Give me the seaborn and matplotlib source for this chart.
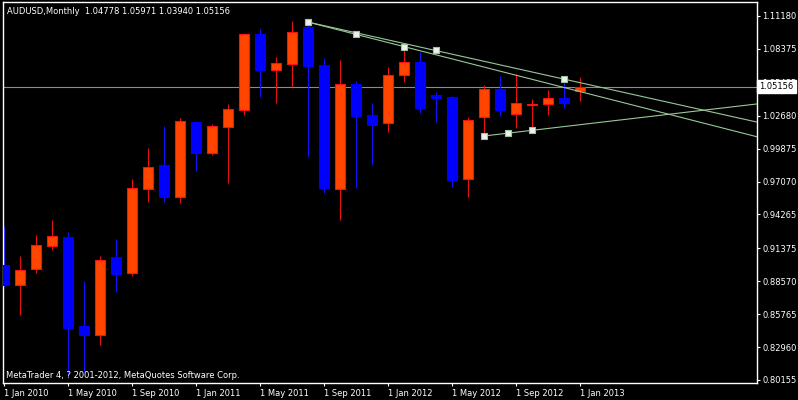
import numpy as np
import pandas as pd
import seaborn as sns
import matplotlib.pyplot as plt

# AUDUSD monthly bars, Jan 2010 .. Jan 2013
months = pd.date_range('2010-01-01', periods=37, freq='MS')
opens = [0.8996, 0.8825, 0.8962, 0.9158, 0.9234, 0.8476, 0.8399, 0.9064, 0.8928, 0.9644,
         0.9848, 0.9575, 1.0215, 0.9950, 1.0172, 1.0317, 1.0965, 1.0658, 1.0709, 1.1024,
         1.0700, 0.9644, 1.0538, 1.0274, 1.0206, 1.0615, 1.0726, 1.0445, 1.0428, 0.9729,
         1.0257, 1.0496, 1.0283, 1.0359, 1.0368, 1.0419, 1.04778]
highs = [0.9328, 0.9072, 0.9251, 0.9379, 0.9277, 0.8859, 0.9072, 0.9217, 0.9729, 0.9993,
         1.0180, 1.0249, 1.0223, 1.0198, 1.0368, 1.0973, 1.1007, 1.0769, 1.1075, 1.1067,
         1.0760, 1.0743, 1.0564, 1.0377, 1.0683, 1.0862, 1.0811, 1.0470, 1.0440, 1.0257,
         1.0530, 1.0607, 1.0624, 1.0411, 1.0487, 1.0581, 1.05971]
lows = [0.8817, 0.8570, 0.8928, 0.9124, 0.8070, 0.8080, 0.8314, 0.8766, 0.8902, 0.9533,
        0.9533, 0.9524, 0.9797, 0.9933, 0.9695, 1.0274, 1.0428, 1.0377, 1.0513, 0.9916,
        0.9609, 0.9379, 0.9652, 0.9848, 1.0129, 1.0556, 1.0291, 1.0215, 0.9661, 0.9575,
        1.0095, 1.0266, 1.0163, 1.0138, 1.0274, 1.0334, 1.03940]
closes = [0.8825, 0.8953, 0.9166, 0.9243, 0.8459, 0.8399, 0.9038, 0.8919, 0.9652, 0.9831,
          0.9575, 1.0223, 0.9950, 1.0180, 1.0325, 1.0965, 1.0658, 1.0717, 1.0982, 1.0692,
          0.9652, 1.0538, 1.0266, 1.0189, 1.0615, 1.0726, 1.0334, 1.0419, 0.9720, 1.0232,
          1.0496, 1.0317, 1.0377, 1.0368, 1.0419, 1.0377, 1.05156]

xtick_pos = [0, 4, 8, 12, 16, 20, 24, 28, 32, 36]
xtick_labels = ['1 Jan 2010', '1 May 2010', '1 Sep 2010', '1 Jan 2011', '1 May 2011',
                '1 Sep 2011', '1 Jan 2012', '1 May 2012', '1 Sep 2012', '1 Jan 2013']
ytick_values = [1.11180, 1.08375, 1.05485, 1.02680, 0.99875, 0.97070,
                0.94265, 0.91375, 0.88570, 0.85765, 0.82960, 0.80155]

# trend lines (bar index, price) -> drawn as rays to the right
trend_start = [(19, 1.1067), (19, 1.1067), (30, 1.0095)]
trend_end = [(25, 1.0858), (35, 1.0581), (33, 1.0143)]
last_price = 1.05156

sns.set_theme(style='dark', rc={'axes.facecolor': 'black', 'figure.facecolor': 'black',
                                'axes.edgecolor': 'white', 'text.color': 'white',
                                'xtick.color': 'white', 'ytick.color': 'white',
                                'axes.grid': False})
plt.rcParams['font.family'] = ['DejaVu Sans']

fig = plt.figure(figsize=(7.98, 4.0), dpi=100)
ax = fig.add_axes([2.5 / 798, 17 / 400, 754.5 / 798, 381 / 400])
xmin, xmax = -0.0625, 47.09
ax.set_xlim(xmin, xmax)
ax.set_ylim(0.79899, 1.12373)

df = pd.DataFrame({'o': opens, 'h': highs, 'l': lows, 'c': closes})
df['x'] = np.arange(len(df))
bull = df.c >= df.o
up, dn = df[bull], df[~bull]

ax.axhline(last_price, color='#8c8c8c', lw=0.8, zorder=1)

ax.vlines(up.x, up.l, up.h, color='#e81010', lw=0.8, zorder=2)
ax.vlines(dn.x, dn.l, dn.h, color='#1010ff', lw=0.8, zorder=2)
ax.bar(up.x, up.c - up.o, bottom=up.o, width=0.625, color='#ff4500',
       edgecolor='#ff1010', lw=0.8, zorder=3)
ax.bar(dn.x, dn.o - dn.c, bottom=dn.c, width=0.625, color='#0000ff',
       edgecolor='#0000ff', lw=0.8, zorder=3)

# trend lines
rows, marks = [], []
for k, ((x1, p1), (x2, p2)) in enumerate(zip(trend_start, trend_end)):
    slope = (p2 - p1) / (x2 - x1)
    rows += [(k, x1, p1), (k, xmax + 1, p1 + slope * (xmax + 1 - x1))]
    marks += [(x1, p1), ((x1 + x2) / 2, (p1 + p2) / 2), (x2, p2)]
tl = pd.DataFrame(rows, columns=['line', 'x', 'p'])
sns.lineplot(data=tl, x='x', y='p', units='line', estimator=None, color='#98c898',
             lw=0.8, ax=ax, zorder=4)
mk = pd.DataFrame(marks, columns=['x', 'p'])
sns.scatterplot(data=mk, x='x', y='p', marker='s', s=14, color='#f0f0f0',
                edgecolor='#98c898', linewidth=0.8, ax=ax, zorder=5)

for s in ax.spines.values():
    s.set_visible(True)
    s.set_color('white')
    s.set_linewidth(1)

ax.set_xticks(xtick_pos)
ax.set_xticklabels(xtick_labels)
for lab in ax.get_xticklabels():
    lab.set_ha('left')
ax.set_yticks(ytick_values)
ax.set_yticklabels([f'{v:.5f}' for v in ytick_values])
ax.yaxis.tick_right()
ax.tick_params(axis='y', right=True, left=False, labelright=True, labelleft=False,
               length=2.5, width=0.8, pad=1.5, labelsize=6, colors='white', direction='out')
ax.tick_params(axis='x', bottom=True, length=2.5, width=0.8, pad=1.5, labelsize=6,
               colors='white', direction='out')
ax.set_xlabel('')
ax.set_ylabel('')

ax.text(1.003, last_price, f'{last_price:.5f}', transform=ax.get_yaxis_transform(),
        color='black', fontsize=6, va='center', ha='left', clip_on=False, zorder=10,
        bbox=dict(boxstyle='square,pad=0.25', fc='white', ec='white'))

fig.text(7 / 798, 1 - 11 / 400, 'AUDUSD,Monthly  1.04778 1.05971 1.03940 1.05156',
         fontsize=6, color='white', va='center')
fig.text(6 / 798, 1 - 375 / 400, 'MetaTrader 4, ? 2001-2012, MetaQuotes Software Corp.',
         fontsize=6, color='white', va='center')

fig.savefig('out.png', dpi=100, facecolor='black')
